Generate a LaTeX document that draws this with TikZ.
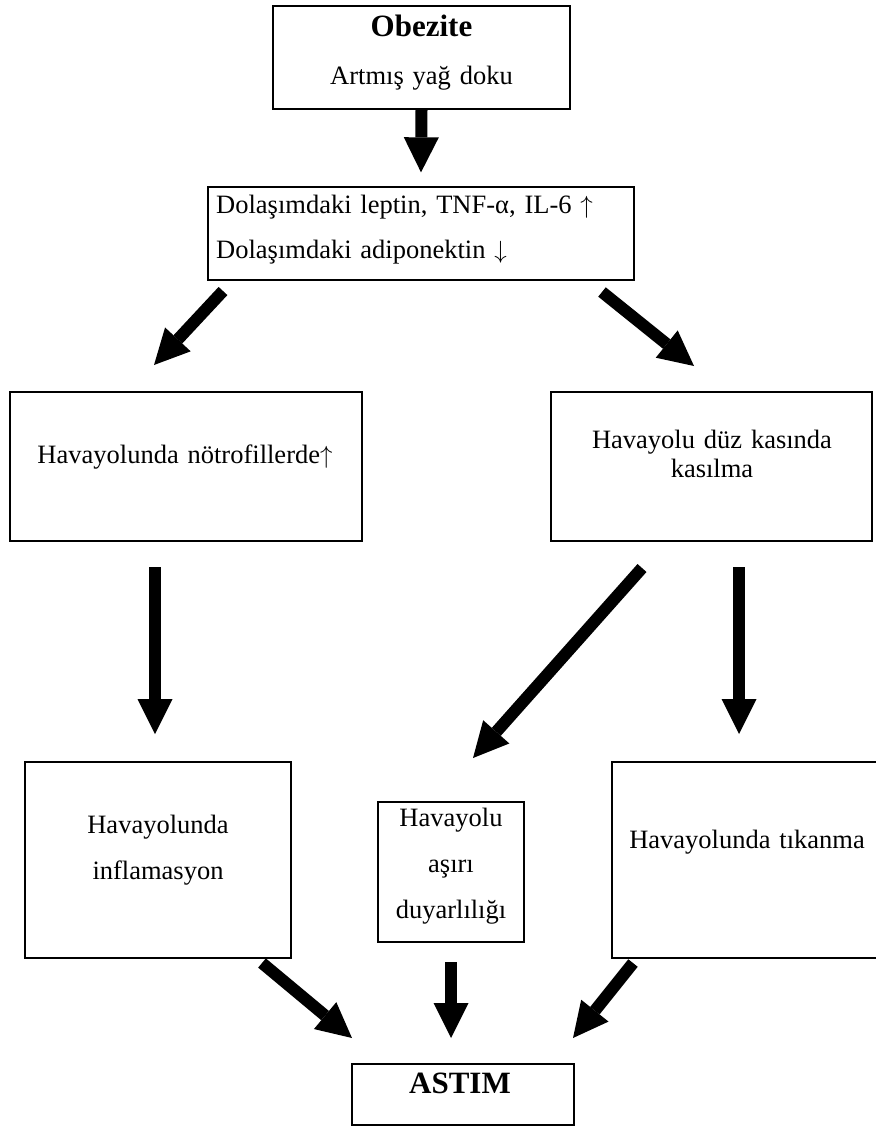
\documentclass[tikz,border=0pt]{standalone}
\usepackage{fontspec}
\setmainfont{Liberation Serif}
\usetikzlibrary{arrows.meta}

\begin{document}
\begin{tikzpicture}[x=1pt, y=-1pt,
	frame/.style={draw, line width=1.3pt, inner sep=0pt},
	txt/.style={inner sep=0pt, anchor=base, text width=340pt, align=center, font=\fontsize{26.5}{46}\selectfont},
	head/.style={font=\fontsize{31}{37}\selectfont\bfseries},
	fat/.style={line width=12pt, -{Triangle[length=35pt, width=35pt, line width=0pt]}}]
	\useasboundingbox (0,0) rectangle (875,1126);

	% boxes
	\node[frame, minimum width=297pt, minimum height=103pt] (obez) at (421.5,57.5) {};
	\node[frame, minimum width=426pt, minimum height=93pt] (dolas) at (421,233.5) {};
	\node[frame, minimum width=352pt, minimum height=149pt] (notro) at (186,466.5) {};
	\node[frame, minimum width=321pt, minimum height=149pt] (kasil) at (711.5,466.5) {};
	\node[frame, minimum width=266pt, minimum height=196pt] (inflam) at (158,860) {};
	\node[frame, minimum width=146pt, minimum height=140pt] (duyar) at (451,872) {};
	\node[frame, minimum width=270pt, minimum height=196pt] (tikan) at (747,860) {};
	\node[frame, minimum width=222pt, minimum height=61pt] (astim) at (463,1094.5) {};

	% texts
	\node[txt] (obezT) at (421.5,37) {{\fontsize{31}{37}\selectfont\bfseries Obezite}\\[2pt]Artmış yağ doku};
	\node[txt, anchor=base west, align=left, text width=410pt, font=\fontsize{26.5}{45}\selectfont] (dolasT) at (216,213) {Dolaşımdaki leptin, TNF-α, IL-6 $\uparrow$\\Dolaşımdaki adiponektin $\downarrow$};
	\node[txt] (notroT) at (185,463) {Havayolunda nötrofillerde$\uparrow$};
	\node[txt, font=\fontsize{26.5}{29}\selectfont] (kasilT) at (712,448) {Havayolu düz kasında\\kasılma};
	\node[txt] (inflamT) at (158,833) {Havayolunda\\inflamasyon};
	\node[txt] (duyarT) at (451,826) {Havayolu\\aşırı\\duyarlılığı};
	\node[txt] (tikanT) at (747,848) {Havayolunda tıkanma};
	\node[txt, head] (astimT) at (460,1093) {ASTIM};

	% arrow ends
	\coordinate (ls) at (223,291); \coordinate (le) at (154,365);
	\coordinate (rs) at (602,292); \coordinate (re) at (694,366);
	\coordinate (vls) at (155,567); \coordinate (vle) at (155,734);
	\coordinate (ms) at (642,568); \coordinate (me) at (473,758);
	\coordinate (vrs) at (739,567); \coordinate (vre) at (739,734);
	\coordinate (bls) at (262,963); \coordinate (ble) at (352,1038);
	\coordinate (bms) at (451,962); \coordinate (bme) at (451,1038);
	\coordinate (brs) at (633,963); \coordinate (bre) at (573,1038);

	\draw[fat] (obez.south) -- ([yshift=14pt]dolas.north);
	\draw[fat] (ls) -- (le);
	\draw[fat] (rs) -- (re);
	\draw[fat] (vls) -- (vle);
	\draw[fat] (ms) -- (me);
	\draw[fat] (vrs) -- (vre);
	\draw[fat] (bls) -- (ble);
	\draw[fat] (bms) -- (bme);
	\draw[fat] (brs) -- (bre);
\end{tikzpicture}
\end{document}
